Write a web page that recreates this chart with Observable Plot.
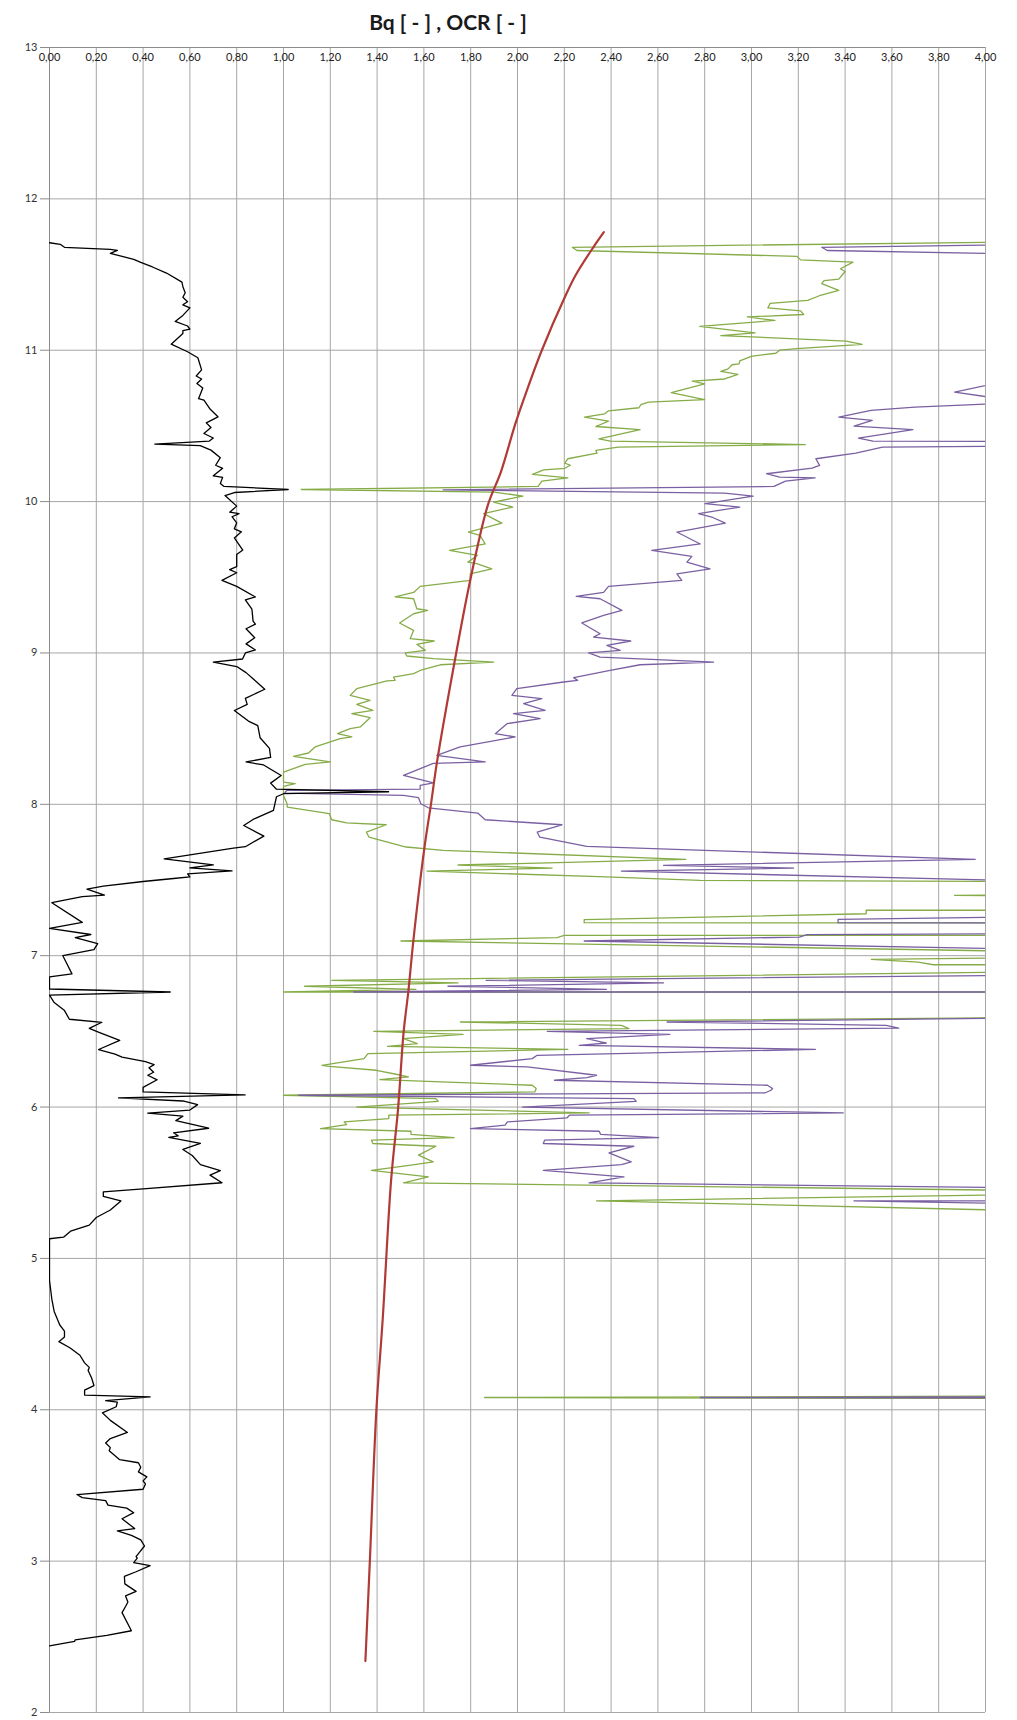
<!DOCTYPE html>
<html>
<head>
<meta charset="utf-8">
<script src="https://cdn.jsdelivr.net/npm/d3@7"></script>
<script src="https://cdn.jsdelivr.net/npm/@observablehq/plot@0.6"></script>
<style>
  html, body { margin: 0; padding: 0; background: #fff; }
  #wrap { width: 1017px; }
  #title { position: relative; height: 40px; }
  #title span { position: absolute; left: 448px; top: 11px; transform: translateX(-50%);
    font-family: Lato, "Open Sans", sans-serif; font-weight: 700; font-size: 21px; line-height: 21px; color: #1a1a1a; white-space: pre; }
  svg { display: block; }
</style>
</head>
<body>
<div id="wrap">
  <div id="title"><span>Bq [ - ] , OCR [ - ]</span></div>
  <div id="chart"></div>
</div>
<script>
// Axis ticks
const xTicks = d3.range(21).map(i => i / 5);          // 0,00 … 4,00
const yTicks = d3.range(2, 14);                        // 2 … 13

// Bq profile [Bq, depth]
const bq = [[0,11.71],[0.046,11.70],[0.064,11.68],[0.26,11.666],[0.29,11.66],[0.26,11.64],[0.36,11.60],[0.39,11.58],[0.44,11.55],[0.50,11.51],[0.566,11.45],[0.57,11.42],[0.58,11.38],[0.57,11.35],[0.59,11.32],[0.57,11.30],[0.60,11.28],[0.57,11.23],[0.537,11.19],[0.59,11.16],[0.60,11.14],[0.57,11.13],[0.57,11.11],[0.52,11.04],[0.59,10.99],[0.634,10.95],[0.65,10.87],[0.627,10.83],[0.65,10.81],[0.63,10.78],[0.655,10.75],[0.637,10.68],[0.66,10.67],[0.687,10.61],[0.72,10.56],[0.67,10.52],[0.69,10.49],[0.66,10.45],[0.70,10.42],[0.683,10.40],[0.45,10.38],[0.644,10.37],[0.69,10.34],[0.73,10.29],[0.71,10.24],[0.74,10.22],[0.70,10.17],[0.74,10.16],[0.73,10.12],[0.746,10.10],[1.02,10.08],[0.79,10.06],[0.75,10.04],[0.80,9.97],[0.77,9.93],[0.81,9.92],[0.78,9.90],[0.80,9.86],[0.79,9.82],[0.82,9.80],[0.79,9.76],[0.826,9.68],[0.80,9.65],[0.80,9.57],[0.77,9.55],[0.80,9.53],[0.737,9.48],[0.80,9.44],[0.88,9.37],[0.837,9.35],[0.865,9.29],[0.87,9.21],[0.88,9.19],[0.84,9.16],[0.877,9.10],[0.84,9.06],[0.88,9.02],[0.837,9.00],[0.825,8.96],[0.70,8.94],[0.80,8.91],[0.84,8.87],[0.87,8.83],[0.92,8.76],[0.837,8.70],[0.845,8.66],[0.79,8.62],[0.85,8.55],[0.89,8.52],[0.90,8.44],[0.94,8.37],[0.945,8.31],[0.84,8.28],[0.915,8.26],[0.99,8.19],[0.945,8.14],[0.97,8.10],[1.449,8.083],[1.0,8.07],[0.97,8.05],[0.957,7.96],[0.87,7.90],[0.83,7.86],[0.916,7.79],[0.837,7.72],[0.786,7.71],[0.49,7.64],[0.70,7.60],[0.60,7.58],[0.78,7.56],[0.59,7.54],[0.60,7.52],[0.53,7.51],[0.40,7.49],[0.23,7.46],[0.16,7.44],[0.235,7.40],[0.14,7.39],[0.01,7.35],[0.14,7.22],[0,7.18],[0.177,7.14],[0.11,7.12],[0.206,7.08],[0.19,7.04],[0.057,7.00],[0.07,6.96],[0.096,6.88],[0,6.86],[0,6.78],[0.516,6.76],[0,6.74],[0.02,6.69],[0.063,6.64],[0.085,6.58],[0.224,6.56],[0.17,6.52],[0.217,6.49],[0.30,6.44],[0.21,6.38],[0.28,6.35],[0.31,6.33],[0.41,6.30],[0.447,6.28],[0.425,6.26],[0.445,6.23],[0.42,6.21],[0.46,6.18],[0.40,6.13],[0.40,6.10],[0.836,6.08],[0.295,6.06],[0.57,6.04],[0.633,6.016],[0.60,5.98],[0.42,5.96],[0.57,5.94],[0.54,5.91],[0.68,5.86],[0.53,5.83],[0.55,5.81],[0.51,5.80],[0.645,5.76],[0.57,5.72],[0.61,5.68],[0.645,5.62],[0.73,5.58],[0.686,5.55],[0.737,5.50],[0.40,5.46],[0.23,5.44],[0.23,5.41],[0.305,5.38],[0.26,5.32],[0.20,5.27],[0.17,5.22],[0.09,5.18],[0.06,5.14],[0,5.13],[0,4.856],[0.01,4.73],[0.02,4.65],[0.044,4.56],[0.064,4.52],[0.064,4.48],[0.04,4.45],[0.087,4.41],[0.13,4.36],[0.15,4.31],[0.17,4.28],[0.165,4.26],[0.18,4.21],[0.19,4.16],[0.15,4.13],[0.15,4.097],[0.43,4.085],[0.24,4.06],[0.29,4.05],[0.285,4.02],[0.226,3.98],[0.26,3.93],[0.333,3.85],[0.26,3.81],[0.24,3.78],[0.26,3.75],[0.255,3.73],[0.27,3.71],[0.30,3.67],[0.38,3.65],[0.39,3.62],[0.38,3.59],[0.416,3.557],[0.40,3.53],[0.41,3.51],[0.40,3.475],[0.117,3.44],[0.14,3.42],[0.24,3.40],[0.25,3.37],[0.33,3.35],[0.36,3.32],[0.31,3.28],[0.364,3.215],[0.29,3.20],[0.35,3.17],[0.39,3.14],[0.406,3.10],[0.385,3.06],[0.37,3.03],[0.375,3.02],[0.36,2.99],[0.43,2.97],[0.37,2.93],[0.32,2.90],[0.322,2.85],[0.37,2.80],[0.325,2.77],[0.335,2.73],[0.325,2.70],[0.31,2.66],[0.35,2.54],[0.245,2.51],[0.11,2.48],[0.107,2.47],[0,2.44]];

// OCR estimate, green series [OCR, depth]
const ocrGreen = [[4.1,11.715],[2.234,11.68],[2.254,11.659],[3.194,11.62],[3.21,11.597],[3.434,11.582],[3.38,11.538],[3.40,11.52],[3.373,11.47],[3.31,11.46],[3.30,11.44],[3.373,11.395],[3.29,11.36],[3.24,11.33],[3.08,11.31],[3.07,11.28],[3.21,11.26],[3.223,11.236],[2.982,11.22],[3.10,11.197],[2.779,11.157],[3.015,11.115],[2.869,11.097],[3.405,11.06],[3.473,11.038],[3.194,11.01],[3.12,11.0],[3.104,10.98],[2.999,10.96],[2.95,10.93],[2.947,10.91],[2.917,10.904],[2.90,10.877],[2.869,10.86],[2.942,10.84],[2.885,10.81],[2.747,10.796],[2.80,10.778],[2.657,10.72],[2.80,10.673],[2.56,10.657],[2.527,10.64],[2.519,10.62],[2.389,10.60],[2.373,10.58],[2.286,10.558],[2.389,10.532],[2.335,10.496],[2.524,10.476],[2.348,10.415],[2.397,10.40],[3.23,10.377],[2.43,10.36],[2.335,10.338],[2.34,10.32],[2.215,10.283],[2.202,10.254],[2.226,10.24],[2.202,10.22],[2.112,10.21],[2.064,10.18],[2.215,10.157],[2.104,10.135],[2.088,10.10],[1.076,10.08],[1.90,10.063],[2.023,10.036],[1.898,9.997],[1.98,9.964],[1.855,9.92],[1.933,9.858],[1.79,9.799],[1.84,9.777],[1.862,9.72],[1.71,9.678],[1.829,9.645],[1.788,9.60],[1.826,9.59],[1.89,9.556],[1.798,9.523],[1.798,9.479],[1.584,9.44],[1.556,9.40],[1.477,9.37],[1.556,9.358],[1.57,9.292],[1.616,9.281],[1.556,9.259],[1.496,9.198],[1.556,9.149],[1.541,9.094],[1.644,9.079],[1.57,9.057],[1.606,9.017],[1.52,9.0],[1.527,8.98],[1.641,8.962],[1.898,8.94],[1.67,8.922],[1.591,8.889],[1.556,8.863],[1.47,8.841],[1.477,8.819],[1.442,8.815],[1.313,8.764],[1.285,8.72],[1.37,8.687],[1.313,8.66],[1.382,8.621],[1.292,8.599],[1.37,8.572],[1.328,8.511],[1.285,8.5],[1.231,8.467],[1.292,8.445],[1.242,8.434],[1.135,8.379],[1.107,8.339],[1.043,8.317],[1.20,8.28],[1.093,8.264],[1.0,8.213],[1.0,8.147],[1.05,8.136],[1.0,8.119],[1.0,8.059],[1.016,8.00],[1.016,7.982],[1.196,7.938],[1.206,7.898],[1.27,7.878],[1.439,7.865],[1.354,7.817],[1.365,7.784],[1.524,7.718],[1.682,7.696],[2.719,7.636],[1.746,7.599],[2.148,7.579],[1.613,7.559],[2.38,7.52],[2.78,7.498],[4.1,7.49],[4.1,7.40],[3.868,7.398],[4.1,7.395],[4.1,7.30],[3.49,7.30],[3.49,7.277],[2.285,7.238],[2.285,7.218],[4.1,7.216],[4.1,7.134],[2.20,7.134],[2.169,7.119],[1.502,7.097],[4.1,7.03],[4.1,6.985],[3.512,6.976],[3.713,6.958],[3.777,6.94],[4.1,6.94],[4.1,6.892],[1.206,6.837],[1.746,6.82],[1.09,6.798],[1.566,6.778],[1.0,6.76],[4.1,6.76],[4.1,6.59],[1.756,6.562],[2.444,6.54],[2.476,6.518],[1.386,6.50],[1.767,6.48],[1.513,6.452],[1.572,6.419],[1.445,6.401],[2.215,6.381],[1.361,6.353],[1.344,6.32],[1.164,6.276],[1.196,6.269],[1.397,6.243],[1.503,6.21],[1.534,6.199],[1.412,6.181],[2.063,6.144],[2.08,6.122],[2.074,6.10],[1.0,6.078],[1.651,6.056],[1.661,6.038],[1.312,6.0],[2.306,5.961],[1.45,5.946],[1.45,5.924],[1.259,5.902],[1.27,5.884],[1.158,5.858],[1.545,5.84],[1.545,5.82],[1.729,5.798],[1.376,5.781],[1.382,5.759],[1.651,5.741],[1.577,5.682],[1.64,5.638],[1.545,5.616],[1.376,5.582],[1.619,5.538],[1.513,5.499],[4.1,5.45],[4.1,5.42],[2.338,5.38],[4.1,5.318],[4.1,4.09],[1.859,4.081],[4.1,4.075]];

// OCR estimate, purple series [OCR, depth]
const ocrPurple = [[4.1,11.696],[3.30,11.68],[3.324,11.659],[4.1,11.637],[4.1,10.80],[3.868,10.723],[4.1,10.672],[4.1,10.65],[3.698,10.624],[3.511,10.602],[3.373,10.558],[3.516,10.536],[3.438,10.499],[3.69,10.476],[3.457,10.419],[3.519,10.40],[4.1,10.397],[4.1,10.366],[3.56,10.36],[3.446,10.32],[3.275,10.283],[3.291,10.239],[3.259,10.221],[3.064,10.184],[3.12,10.162],[3.272,10.157],[3.145,10.135],[3.096,10.10],[1.682,10.078],[2.885,10.056],[3.007,10.036],[2.802,9.986],[2.95,9.964],[2.774,9.92],[2.83,9.898],[2.888,9.858],[2.681,9.799],[2.781,9.72],[2.574,9.678],[2.745,9.638],[2.724,9.60],[2.823,9.556],[2.681,9.523],[2.702,9.479],[2.389,9.44],[2.368,9.40],[2.251,9.374],[2.353,9.358],[2.446,9.281],[2.368,9.248],[2.275,9.198],[2.353,9.127],[2.325,9.105],[2.484,9.079],[2.382,9.05],[2.439,9.017],[2.304,9.0],[2.353,8.973],[2.838,8.94],[2.524,8.922],[2.396,8.885],[2.24,8.837],[2.257,8.819],[2.197,8.808],[1.997,8.764],[1.976,8.72],[2.104,8.698],[2.026,8.665],[2.118,8.621],[1.983,8.599],[2.097,8.566],[1.955,8.533],[1.905,8.467],[1.99,8.445],[1.755,8.379],[1.655,8.324],[1.862,8.28],[1.64,8.27],[1.513,8.191],[1.641,8.141],[1.584,8.125],[1.584,8.10],[1.014,8.092],[1.005,8.074],[1.513,8.059],[1.577,8.044],[1.587,8.004],[1.619,7.977],[1.83,7.942],[1.862,7.898],[2.19,7.865],[2.084,7.817],[2.095,7.784],[2.296,7.722],[3.956,7.636],[2.624,7.597],[3.18,7.579],[2.444,7.559],[4.1,7.497],[4.1,7.255],[3.37,7.24],[3.37,7.218],[4.1,7.216],[4.1,7.145],[3.237,7.139],[3.205,7.123],[2.285,7.097],[4.1,7.046],[4.1,6.87],[1.866,6.837],[2.624,6.82],[1.703,6.798],[2.38,6.778],[1.30,6.76],[4.1,6.76],[4.1,6.588],[2.639,6.562],[3.576,6.54],[3.629,6.522],[2.127,6.50],[2.651,6.48],[2.296,6.452],[2.38,6.423],[2.264,6.408],[3.273,6.381],[2.084,6.342],[2.063,6.32],[1.799,6.276],[2.042,6.265],[2.338,6.21],[2.296,6.194],[2.158,6.177],[3.068,6.144],[3.09,6.122],[3.083,6.111],[3.057,6.093],[1.065,6.078],[2.497,6.056],[2.507,6.038],[2.021,6.0],[3.392,5.961],[2.222,5.946],[2.211,5.928],[1.957,5.902],[1.947,5.88],[1.799,5.858],[2.349,5.84],[2.355,5.82],[2.603,5.798],[2.116,5.781],[2.11,5.759],[2.497,5.741],[2.391,5.697],[2.486,5.638],[2.444,5.62],[2.11,5.582],[2.455,5.538],[2.306,5.499],[4.1,5.468],[4.1,5.38],[3.438,5.38],[4.1,5.362],[4.1,4.085],[2.781,4.081],[4.1,4.078]];

// OCR trend, red curve [OCR, depth]
const ocrTrend = [[2.369,11.78],[2.324,11.68],[2.25,11.50],[2.202,11.35],[2.104,11.00],[2.039,10.73],[1.99,10.51],[1.93,10.20],[1.873,9.975],[1.798,9.48],[1.731,8.94],[1.655,8.27],[1.632,8.02],[1.602,7.71],[1.555,7.10],[1.534,6.77],[1.513,6.49],[1.496,6.12],[1.488,5.96],[1.460,5.52],[1.424,4.60],[1.397,4.00],[1.369,3.00],[1.35,2.34]];

const comma = d => d.toFixed(2).replace(".", ",");
const X = d => d[0], Y = d => d[1];

const chart = Plot.plot({
  width: 1017,
  height: 1680,
  marginLeft: 49,
  marginRight: 32,
  marginTop: 7,
  marginBottom: 8,
  style: { fontFamily: "Lato, 'Open Sans', sans-serif", fontSize: "11px", background: "#fff" },
  x: { domain: [0, 4] },
  y: { domain: [2, 13] },
  marks: [
    Plot.gridX(xTicks, { stroke: "#a6a6a6", strokeOpacity: 1 }),
    Plot.gridY(yTicks, { stroke: "#a6a6a6", strokeOpacity: 1 }),
    Plot.ruleX([0], { stroke: "#8c8c8c" }),
    Plot.ruleY([13], { stroke: "#8c8c8c" }),
    Plot.axisX(xTicks, { anchor: "top", tickSize: 0, tickPadding: 3, dy: 16, tickFormat: comma, fill: "#222", fontSize: 11 }),
    Plot.axisY(yTicks, { anchor: "left", tickSize: 9, tickPadding: 3, stroke: "#8c8c8c", fill: "#333", fontSize: 11, tickFormat: d => String(d) }),
    Plot.line(ocrGreen, { x: X, y: Y, stroke: "#86ac48", strokeWidth: 1.3, clip: true }),
    Plot.line(ocrPurple, { x: X, y: Y, stroke: "#7a60a2", strokeWidth: 1.3, clip: true }),
    Plot.line(bq, { x: X, y: Y, stroke: "#000", strokeWidth: 1.3, clip: true }),
    Plot.line(ocrTrend, { x: X, y: Y, stroke: "#b03a36", strokeWidth: 2.2, curve: "catmull-rom", clip: true })
  ]
});
document.getElementById("chart").appendChild(chart);
</script>
</body>
</html>
